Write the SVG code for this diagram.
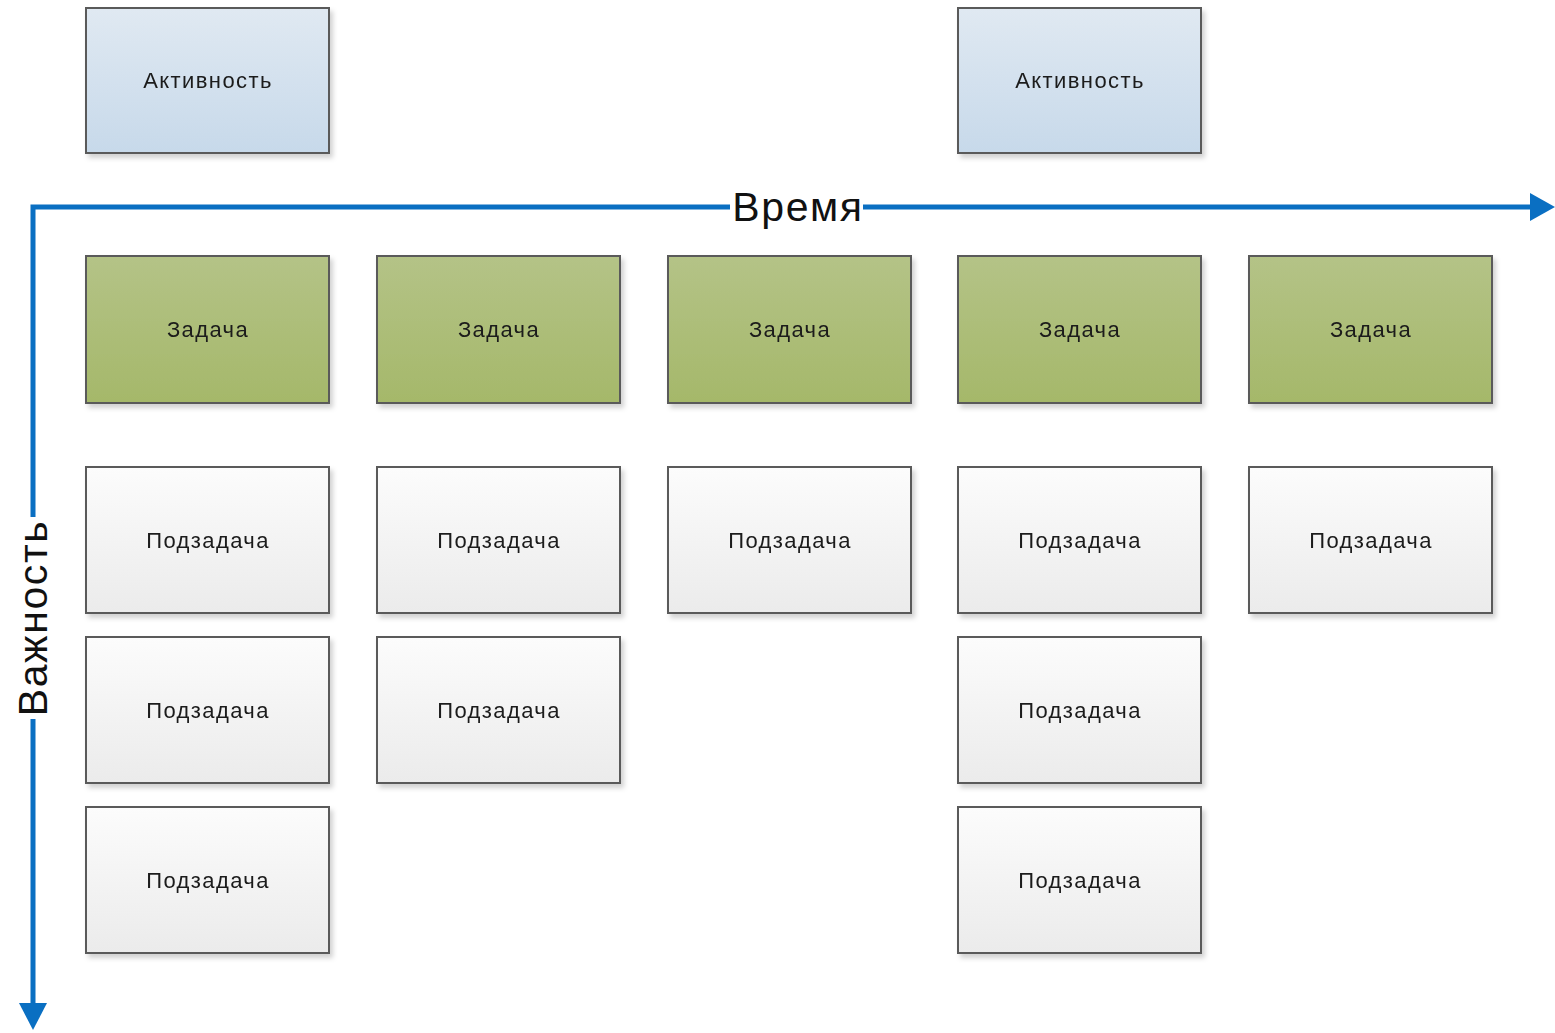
<svg xmlns="http://www.w3.org/2000/svg" width="1555" height="1033" viewBox="0 0 1555 1033">
<style>
.box{stroke:#5a5a5a;stroke-width:2}
.act{fill:url(#gAct)}
.task{fill:url(#gTask)}
.sub{fill:url(#gSub)}
.lbl{font-family:"Liberation Sans",Arial,sans-serif;font-size:22px;letter-spacing:1.4px;fill:#1a1a1a;text-anchor:middle;dominant-baseline:central}
.axis{stroke:#0a6fc2;stroke-width:5;fill:none}
.axlbl{font-family:"Liberation Sans",Arial,sans-serif;font-size:41px;letter-spacing:1.6px;fill:#111;text-anchor:middle;dominant-baseline:central}
</style>
<defs>
<linearGradient id="gAct" x1="0" y1="0" x2="0" y2="1"><stop offset="0" stop-color="#e0e9f2"/><stop offset="1" stop-color="#c7d9ea"/></linearGradient>
<linearGradient id="gTask" x1="0" y1="0" x2="0" y2="1"><stop offset="0" stop-color="#b4c387"/><stop offset="1" stop-color="#a5b86a"/></linearGradient>
<linearGradient id="gSub" x1="0" y1="0" x2="0" y2="1"><stop offset="0" stop-color="#fcfcfc"/><stop offset="1" stop-color="#ebebeb"/></linearGradient>
<filter id="sh" x="-10%" y="-10%" width="125%" height="130%"><feDropShadow dx="3" dy="4" stdDeviation="2.5" flood-color="#000" flood-opacity="0.18"/></filter>
</defs>
<g id="connectors">
<path class="axis" d="M1532 207 H33 V1005"/>
<polygon points="1530,193 1555,207 1530,221" fill="#0a6fc2"/>
<polygon points="19,1003 33,1030 47,1003" fill="#0a6fc2"/>
<rect x="730" y="190" width="133" height="34" fill="#fff"/>
<text class="axlbl" x="798" y="207">Время</text>
<rect x="14" y="517" width="38" height="202" fill="#fff"/>
<text class="axlbl" transform="translate(33 618) rotate(-90)">Важность</text>
</g>
<g id="act1" filter="url(#sh)"><rect class="box act" x="86" y="8" width="243" height="145"/><text class="lbl" x="208" y="80.5">Активность</text></g>
<g id="act2" filter="url(#sh)"><rect class="box act" x="958" y="8" width="243" height="145"/><text class="lbl" x="1080" y="80.5">Активность</text></g>
<g id="task1" filter="url(#sh)"><rect class="box task" x="86" y="256" width="243" height="147"/><text class="lbl" x="208" y="329.5">Задача</text></g>
<g id="task2" filter="url(#sh)"><rect class="box task" x="377" y="256" width="243" height="147"/><text class="lbl" x="499" y="329.5">Задача</text></g>
<g id="task3" filter="url(#sh)"><rect class="box task" x="668" y="256" width="243" height="147"/><text class="lbl" x="790" y="329.5">Задача</text></g>
<g id="task4" filter="url(#sh)"><rect class="box task" x="958" y="256" width="243" height="147"/><text class="lbl" x="1080" y="329.5">Задача</text></g>
<g id="task5" filter="url(#sh)"><rect class="box task" x="1249" y="256" width="243" height="147"/><text class="lbl" x="1371" y="329.5">Задача</text></g>
<g id="sub1a" filter="url(#sh)"><rect class="box sub" x="86" y="467" width="243" height="146"/><text class="lbl" x="208" y="540">Подзадача</text></g>
<g id="sub2a" filter="url(#sh)"><rect class="box sub" x="377" y="467" width="243" height="146"/><text class="lbl" x="499" y="540">Подзадача</text></g>
<g id="sub3a" filter="url(#sh)"><rect class="box sub" x="668" y="467" width="243" height="146"/><text class="lbl" x="790" y="540">Подзадача</text></g>
<g id="sub4a" filter="url(#sh)"><rect class="box sub" x="958" y="467" width="243" height="146"/><text class="lbl" x="1080" y="540">Подзадача</text></g>
<g id="sub5a" filter="url(#sh)"><rect class="box sub" x="1249" y="467" width="243" height="146"/><text class="lbl" x="1371" y="540">Подзадача</text></g>
<g id="sub1b" filter="url(#sh)"><rect class="box sub" x="86" y="637" width="243" height="146"/><text class="lbl" x="208" y="710">Подзадача</text></g>
<g id="sub2b" filter="url(#sh)"><rect class="box sub" x="377" y="637" width="243" height="146"/><text class="lbl" x="499" y="710">Подзадача</text></g>
<g id="sub4b" filter="url(#sh)"><rect class="box sub" x="958" y="637" width="243" height="146"/><text class="lbl" x="1080" y="710">Подзадача</text></g>
<g id="sub1c" filter="url(#sh)"><rect class="box sub" x="86" y="807" width="243" height="146"/><text class="lbl" x="208" y="880">Подзадача</text></g>
<g id="sub4c" filter="url(#sh)"><rect class="box sub" x="958" y="807" width="243" height="146"/><text class="lbl" x="1080" y="880">Подзадача</text></g>
</svg>
